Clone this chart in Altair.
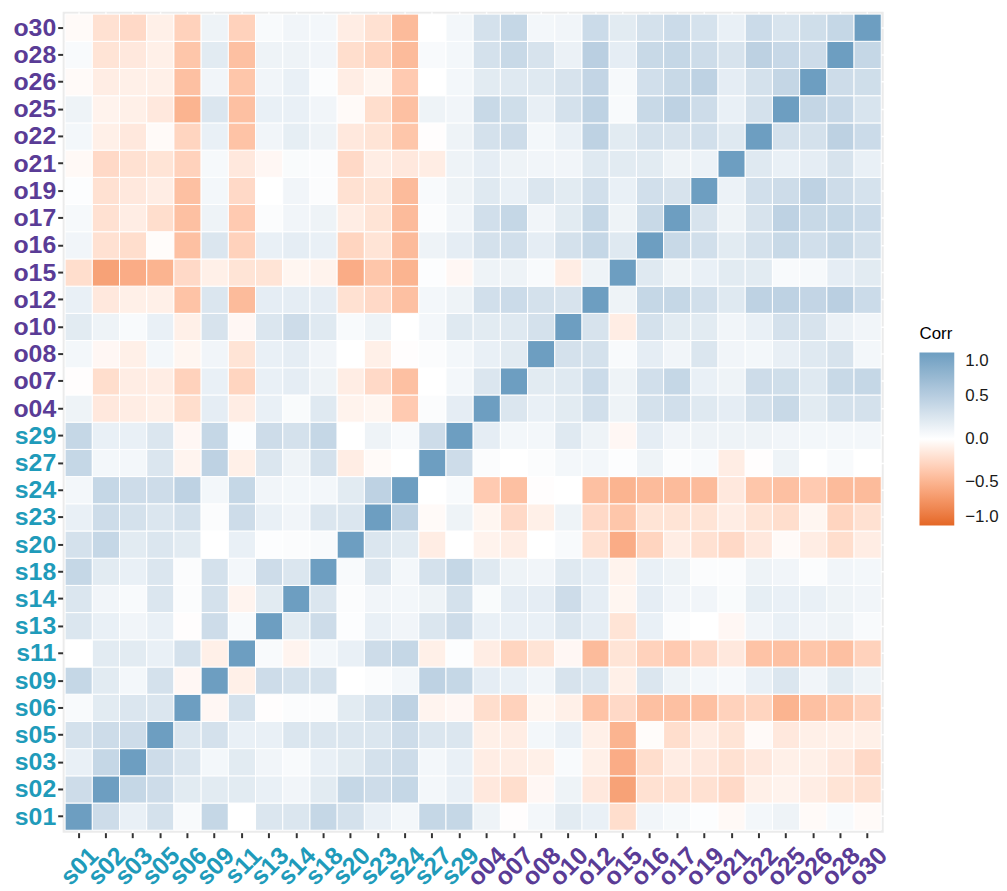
import altair as alt
import pandas as pd

names = ["s01", "s02", "s03", "s05", "s06", "s09", "s11", "s13", "s14", "s18",
         "s20", "s23", "s24", "s27", "s29", "o04", "o07", "o08", "o10", "o12",
         "o15", "o16", "o17", "o19", "o21", "o22", "o25", "o26", "o28", "o30"]

# Lower-triangle correlations: each row lists values against the variables before it
r_s01 = []
r_s02 = [0.35]
r_s03 = [0.15, 0.40]
r_s05 = [0.30, 0.35, 0.35]
r_s06 = [0.05, 0.20, 0.25, 0.25]
r_s09 = [0.40, 0.20, 0.08, 0.30, -0.05]
r_s11 = [0.00, 0.20, 0.20, 0.15, 0.30, -0.10]
r_s13 = [0.25, 0.15, 0.10, 0.15, -0.01, 0.35, 0.05]
r_s14 = [0.25, 0.10, 0.05, 0.25, 0.03, 0.30, -0.07, 0.20]
r_s18 = [0.40, 0.20, 0.15, 0.25, 0.03, 0.30, 0.08, 0.35, 0.25]
r_s20 = [0.30, 0.40, 0.20, 0.25, 0.20, 0.00, 0.15, 0.02, 0.03, 0.05]
r_s23 = [0.15, 0.35, 0.30, 0.25, 0.30, 0.03, 0.35, 0.15, 0.10, 0.25, 0.25]
r_s24 = [0.08, 0.40, 0.35, 0.35, 0.45, 0.08, 0.40, 0.10, 0.08, 0.08, 0.20, 0.45]
r_s27 = [0.40, 0.08, 0.08, 0.25, -0.07, 0.45, -0.10, 0.25, 0.12, 0.30, -0.12, -0.03, 0.00]
r_s29 = [0.40, 0.15, 0.15, 0.25, -0.05, 0.40, 0.02, 0.35, 0.30, 0.40, 0.00, 0.12, 0.05, 0.35]
r_o04 = [0.12, -0.15, -0.12, -0.10, -0.22, 0.18, -0.12, 0.15, 0.04, 0.22, -0.08, -0.06, -0.35, 0.03, 0.18]
r_o07 = [-0.01, -0.22, -0.12, -0.12, -0.30, 0.15, -0.28, 0.15, 0.18, 0.12, -0.12, -0.25, -0.42, 0.00, 0.08,
         0.25]
r_o08 = [0.08, -0.05, -0.10, 0.08, -0.06, 0.10, -0.18, 0.15, 0.18, 0.10, 0.00, -0.10, -0.01, 0.03, 0.08,
         0.15, 0.20]
r_o10 = [0.20, 0.12, 0.05, 0.15, -0.10, 0.28, -0.05, 0.25, 0.35, 0.22, 0.05, 0.12, 0.00, 0.08, 0.22,
         0.20, 0.22, 0.30]
r_o12 = [0.15, -0.15, -0.10, -0.10, -0.40, 0.25, -0.45, 0.18, 0.18, 0.18, -0.20, -0.25, -0.42, 0.08, 0.12,
         0.32, 0.36, 0.30, 0.28]
r_o15 = [-0.22, -0.62, -0.55, -0.50, -0.25, -0.10, -0.18, -0.18, -0.06, -0.08, -0.55, -0.38, -0.50, 0.02, -0.05,
         0.12, 0.12, 0.05, -0.12, 0.12]
r_o16 = [0.10, -0.20, -0.22, -0.02, -0.42, 0.25, -0.30, 0.15, 0.18, 0.15, -0.28, -0.18, -0.45, 0.12, 0.18,
         0.30, 0.32, 0.18, 0.30, 0.40, 0.22]
r_o17 = [0.06, -0.20, -0.12, -0.22, -0.42, 0.12, -0.35, 0.03, 0.10, 0.12, -0.12, -0.18, -0.45, 0.03, 0.10,
         0.32, 0.40, 0.10, 0.20, 0.40, 0.12, 0.38]
r_o19 = [0.02, -0.20, -0.15, -0.12, -0.42, 0.08, -0.25, 0.00, 0.10, 0.03, -0.20, -0.18, -0.45, 0.05, 0.12,
         0.22, 0.15, 0.25, 0.20, 0.32, 0.15, 0.32, 0.28]
r_o21 = [-0.04, -0.25, -0.20, -0.18, -0.30, 0.06, -0.15, -0.05, 0.04, 0.03, -0.25, -0.12, -0.15, -0.12, 0.12,
         0.18, 0.12, 0.10, 0.10, 0.22, 0.20, 0.20, 0.12, 0.13]
r_o22 = [0.08, -0.10, -0.15, -0.03, -0.28, 0.15, -0.40, 0.10, 0.17, 0.12, -0.15, -0.18, -0.38, -0.01, 0.12,
         0.30, 0.35, 0.08, 0.15, 0.45, 0.20, 0.30, 0.28, 0.32, 0.22]
r_o25 = [0.12, -0.08, -0.10, -0.15, -0.50, 0.25, -0.42, 0.15, 0.15, 0.10, -0.03, -0.22, -0.42, 0.12, 0.10,
         0.38, 0.33, 0.16, 0.30, 0.45, 0.05, 0.38, 0.45, 0.35, 0.15, 0.30]
r_o26 = [-0.03, -0.12, -0.10, -0.10, -0.42, 0.10, -0.38, 0.10, 0.15, 0.03, -0.12, -0.06, -0.35, 0.00, 0.08,
         0.20, 0.22, 0.22, 0.28, 0.42, 0.06, 0.32, 0.38, 0.45, 0.18, 0.30, 0.41]
r_o28 = [0.05, -0.18, -0.15, -0.10, -0.38, 0.20, -0.42, 0.12, 0.12, 0.10, -0.22, -0.28, -0.45, 0.05, 0.08,
         0.30, 0.38, 0.28, 0.14, 0.48, 0.18, 0.38, 0.40, 0.35, 0.28, 0.46, 0.39, 0.35]
r_o30 = [-0.03, -0.20, -0.25, -0.10, -0.30, 0.12, -0.30, 0.05, 0.10, 0.08, -0.12, -0.20, -0.45, 0.00, 0.08,
         0.30, 0.40, 0.08, 0.10, 0.36, 0.20, 0.30, 0.36, 0.29, 0.15, 0.36, 0.27, 0.33, 0.40]

lower = [r_s01, r_s02, r_s03, r_s05, r_s06, r_s09, r_s11, r_s13, r_s14, r_s18,
         r_s20, r_s23, r_s24, r_s27, r_s29, r_o04, r_o07, r_o08, r_o10, r_o12,
         r_o15, r_o16, r_o17, r_o19, r_o21, r_o22, r_o25, r_o26, r_o28, r_o30]

n = len(names)
mat = [[1.0] * n for _ in range(n)]
for i, row in enumerate(lower):
    for j, v in enumerate(row):
        mat[i][j] = v
        mat[j][i] = v

records = []
for i in range(n):
    for j in range(n):
        records.append({"Var1": names[j], "Var2": names[i], "Corr": mat[i][j]})
df = pd.DataFrame(records)

teal = "#1F9BBA"
purple = "#5A3C96"
label_color = {"condition": {"test": "indexof(datum.label, 's') == 0", "value": teal}, "value": purple}

axis_common = dict(
    title=None,
    labelFont="Liberation Sans",
    labelFontWeight="bold",
    labelFontSize=25,
    labelColor=label_color,
    tickColor="#333333",
    tickSize=5,
    tickWidth=2,
    domain=False,
    grid=True,
    gridColor="white",
    gridWidth=1.5,
    zindex=0,
)

chart = alt.Chart(df).mark_rect(stroke="white", strokeWidth=1, opacity=1, fillOpacity=1).encode(
    x=alt.X("Var1:N", sort=names,
            scale=alt.Scale(paddingInner=0, paddingOuter=0.09),
            axis=alt.Axis(labelAngle=-45, labelAlign="right", labelBaseline="top",
                          labelPadding=5, labelOffset=7, **axis_common)),
    y=alt.Y("Var2:N", sort=list(reversed(names)),
            scale=alt.Scale(paddingInner=0, paddingOuter=0.09),
            axis=alt.Axis(labelPadding=2, **axis_common)),
    color=alt.Color("Corr:Q",
                    scale=alt.Scale(domain=[-1, 0, 1],
                                    range=["#E46726", "#FFFFFF", "#6D9EC1"],
                                    interpolate="lab"),
                    legend=alt.Legend(title="Corr", orient="none", legendX=862, legendY=316,
                                      values=[1, 0.5, 0, -0.5, -1], format=".1f",
                                      gradientLength=174, gradientThickness=35,
                                      gradientStrokeWidth=0,
                                      titleFont="Liberation Sans", titleFontSize=17,
                                      titleFontWeight="normal", titleColor="#000000",
                                      titlePadding=10,
                                      labelFont="Liberation Sans", labelFontSize=17,
                                      labelColor="#1a1a1a", labelOffset=11)),
).properties(
    width=826, height=826,
    padding={"left": 4, "top": 1, "right": 0, "bottom": 0},
).configure_view(
    fill="#EBEBEB", strokeWidth=0,
)

chart.save("out.html", embed_options={"renderer": "svg", "actions": False})
